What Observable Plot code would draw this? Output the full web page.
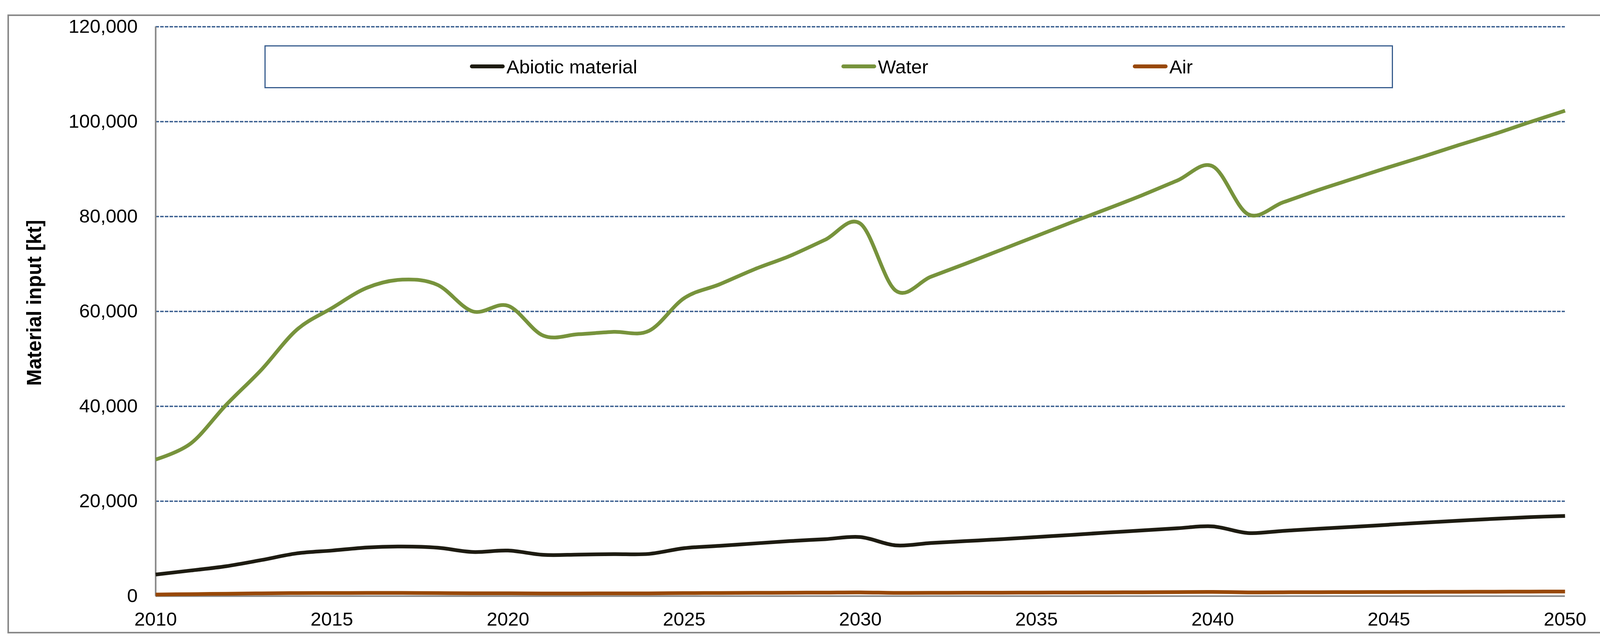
<!DOCTYPE html>
<html>
<head>
<meta charset="utf-8">
<script src="https://cdn.jsdelivr.net/npm/d3@7"></script>
<script src="https://cdn.jsdelivr.net/npm/@observablehq/plot@0.6"></script>
<style>
  html, body { margin: 0; padding: 0; background: #fff; overflow: hidden; }
  #wrap { position: relative; width: 4171px; height: 1644px; font-family: "Liberation Sans", Arial, sans-serif; }
  #frame { position: absolute; left: 19px; top: 37px; width: 4136px; height: 1585px; box-sizing: border-box; border: 4px solid #898989; pointer-events: none; }
  #legend { position: absolute; left: 677px; top: 116px; width: 2889px; height: 110px; box-sizing: border-box; border: 3.5px solid #395E8F; background: #fff; }
  .item { position: absolute; top: 0; height: 100%; display: flex; align-items: center; font-size: 49px; color: #000; white-space: nowrap; }
  .sw { display: inline-block; width: 89px; height: 10px; border-radius: 5px; margin-right: 5px; position: relative; top: -1px; }
  #chart svg { display: block; }
</style>
</head>
<body>
<div id="wrap">
  <div id="chart"></div>
  <div id="legend"></div>
  <div id="frame"></div>
</div>
<script>
const years = [2010,2011,2012,2013,2014,2015,2016,2017,2018,2019,2020,2021,2022,2023,2024,2025,2026,2027,2028,2029,2030,2031,2032,2033,2034,2035,2036,2037,2038,2039,2040,2041,2042,2043,2044,2045,2046,2047,2048,2049,2050];
const abiotic = [4550,5400,6300,7600,9000,9600,10250,10450,10200,9300,9600,8700,8750,8850,8900,10100,10600,11100,11600,12000,12450,10700,11200,11600,12000,12450,12900,13400,13850,14300,14700,13300,13750,14200,14600,15050,15500,15900,16300,16650,16900];
const water = [28800,32200,40300,47700,56100,60700,65000,66700,65600,60000,61200,54900,55200,55700,55900,62800,65700,68900,71700,75100,78500,64400,67300,70100,73000,75900,78800,81600,84500,87600,90600,80500,83000,85600,88000,90400,92700,95100,97400,99900,102300];
const air = [330,420,500,580,640,660,670,670,640,590,600,560,565,570,575,640,660,690,720,750,790,680,690,710,730,750,770,790,810,840,880,790,810,830,850,870,890,910,930,950,970];

const seriesNames = ["Abiotic material", "Water", "Air"];
const seriesColors = ["#1D1B11", "#77933C", "#984807"];
const yTicks = [0, 20000, 40000, 60000, 80000, 100000, 120000];
const xTicks = [2010, 2015, 2020, 2025, 2030, 2035, 2040, 2045, 2050];
const yLabel = "Material input [kt]";

const valuesBySeries = [abiotic, water, air];
const rows = [];
seriesNames.forEach((name, s) => {
  years.forEach((year, i) => rows.push({ year, value: valuesBySeries[s][i], series: name }));
});

const chart = Plot.plot({
  width: 4171,
  height: 1644,
  marginLeft: 398,
  marginRight: 165,
  marginTop: 68,
  marginBottom: 118,
  style: { fontFamily: "'Liberation Sans', Arial, sans-serif", fontSize: "49px", background: "transparent", color: "#000", overflow: "visible" },
  x: { type: "linear", domain: [2010, 2050] },
  y: { type: "linear", domain: [0, 120000] },
  color: { domain: seriesNames, range: seriesColors },
  marks: [
    Plot.ruleY(yTicks.filter(d => d > 0), { stroke: "#395E8F", strokeWidth: 3.5, strokeDasharray: "9,3" }),
    Plot.ruleX([2010], { stroke: "#868686", strokeWidth: 4 }),
    Plot.ruleY([0], { stroke: "#868686", strokeWidth: 4 }),
    Plot.axisX({ ticks: xTicks, tickSize: 0, tickPadding: 41, tickFormat: d => String(d), label: null, fontSize: 49 }),
    Plot.axisY({ ticks: yTicks, tickSize: 0, tickPadding: 46, tickFormat: d3.format(","), label: null, fontSize: 49 }),
    Plot.text([yLabel], { frameAnchor: "left", text: d => d, rotate: -90, dx: -310, dy: -22, fontSize: 51, fontWeight: "bold", textAnchor: "middle", lineAnchor: "middle", fill: "#000" }),
    Plot.line(rows, { x: "year", y: "value", z: "series", stroke: "series", strokeWidth: 9.5, curve: "cardinal", tension: 0, strokeLinejoin: "round", strokeLinecap: "butt" })
  ]
});
document.getElementById("chart").appendChild(chart);

// Legend (overlaid inside the plot frame, as in the reference)
const legendPos = [1203, 2154, 2900];
const legend = document.getElementById("legend");
seriesNames.forEach((name, i) => {
  const item = document.createElement("div");
  item.className = "item";
  item.style.left = (legendPos[i] - 677 - 3.5) + "px";
  const sw = document.createElement("span");
  sw.className = "sw";
  sw.style.background = seriesColors[i];
  const label = document.createElement("span");
  label.textContent = name;
  item.appendChild(sw);
  item.appendChild(label);
  legend.appendChild(item);
});
</script>
</body>
</html>
